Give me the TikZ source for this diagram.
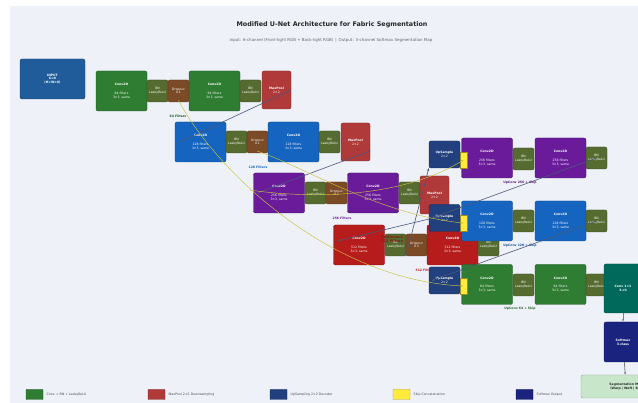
\documentclass[tikz,border=0pt]{standalone}
\usepackage{fontspec}
\setmainfont{DejaVu Sans}
\usepackage{tikz}
\usetikzlibrary{calc}
\usetikzlibrary{arrows.meta}

\definecolor{bgc}{HTML}{EEF1F8}
\definecolor{inc}{HTML}{1F5C99}
\definecolor{grc}{HTML}{2E7D32}
\definecolor{blc}{HTML}{1565C0}
\definecolor{puc}{HTML}{6A1B9A}
\definecolor{rdc}{HTML}{B71C1C}
\definecolor{bnc}{HTML}{556B2F}
\definecolor{drc}{HTML}{7B4A26}
\definecolor{poc}{HTML}{B03A3A}
\definecolor{upc}{HTML}{22407E}
\definecolor{cac}{HTML}{FFEB3B}
\definecolor{tec}{HTML}{00695C}
\definecolor{smc}{HTML}{1A237E}
\definecolor{sgc}{HTML}{C8E6C9}
\definecolor{skc}{HTML}{C9C23A}
\definecolor{dnc}{HTML}{4A5878}

\newcommand{\tinyf}{\fontsize{3.1}{3.7}\selectfont}
\newcommand{\convtxt}[1]{\textbf{Conv2D}\\[5pt]#1 filters\\3×3, same}

\begin{document}
\begin{tikzpicture}[x=1pt, y=-1pt,
	box/.style={rounded corners=2pt, draw=#1!70!black, fill=#1, text=white, align=center, inner sep=0pt, line width=0.4pt, font=\tinyf},
	conv/.style={box=#1, minimum width=51pt, minimum height=40pt},
	bn/.style={box=bnc, minimum width=21pt, minimum height=22pt},
	drop/.style={box=drc, minimum width=21pt, minimum height=22pt},
	pool/.style={box=poc, minimum width=29pt, minimum height=38pt},
	up/.style={box=upc, minimum width=31pt, minimum height=27pt},
	cat/.style={draw=cac!60!black, fill=cac, minimum width=7pt, minimum height=16pt, inner sep=0pt, line width=0.3pt},
	lab/.style={font=\tinyf\bfseries, text=#1},
	down/.style={draw=dnc, line width=0.6pt, -{Stealth[length=3pt, width=2.4pt]}},
	skip/.style={draw=skc, line width=0.45pt, -{Stealth[length=2.5pt, width=2pt]}},
	leg/.style={rounded corners=0.5pt, draw=#1!70!black, fill=#1, minimum width=17pt, minimum height=10pt, inner sep=0pt}]
	\path[use as bounding box] (0,0) rectangle (638,403);
	\clip (0,0) rectangle (638,403);
	\fill[white] (0,0) rectangle (638,403);
	\fill[bgc] (10,6) rectangle (638,403);
	
	\node[font={\fontsize{6.4}{8}\selectfont\bfseries}, text=black!85] (title) at (332,25) {Modified U-Net Architecture for Fabric Segmentation};
	\node[font={\fontsize{4}{5}\selectfont}, text=black!60] (sub) at (331,40) {Input: 6-channel (Front-light RGB + Back-light RGB) \,|\, Output: 3-channel Softmax Segmentation Map};
	
	\node[box=inc, minimum width=65pt, minimum height=40pt, font=\tinyf\bfseries] (inp) at (52.5,79) {INPUT\\6-ch\\(H×W×6)};
	
	% encoder
	\node[conv=grc] (c1a) at (121.5,91) {\convtxt{64}};
	\node[bn] (b1a) at (157.5,91) {BN\\LeakyReLU};
	\node[drop] (d1) at (178.5,91) {Dropout\\0.1};
	\node[conv=grc] (c1b) at (214.5,91) {\convtxt{64}};
	\node[bn] (b1b) at (250.5,91) {BN\\LeakyReLU};
	\node[pool] (mp1) at (276.5,90) {\textbf{MaxPool}\\2×2};
	\node[lab=grc!70!black] (l1) at (178,116) {64 Filters};
	
	\node[conv=blc] (c2a) at (200.5,142) {\convtxt{128}};
	\node[bn] (b2a) at (236.5,142) {BN\\LeakyReLU};
	\node[drop] (d2) at (257.5,142) {Dropout\\0.1};
	\node[conv=blc] (c2b) at (293.5,142) {\convtxt{128}};
	\node[bn] (b2b) at (329.5,142) {BN\\LeakyReLU};
	\node[pool] (mp2) at (355.5,142) {\textbf{MaxPool}\\2×2};
	\node[lab=blc] (l2) at (258,167) {128 Filters};
	
	\node[conv=puc] (c3a) at (279,193) {\convtxt{256}};
	\node[bn] (b3a) at (315.5,193) {BN\\LeakyReLU};
	\node[drop] (d3) at (336.5,193) {Dropout\\0.2};
	\node[conv=puc] (c3b) at (373,193) {\convtxt{256}};
	\node[bn] (b3b) at (409.5,193) {BN\\LeakyReLU};
	\node[pool] (mp3) at (434.5,195) {\textbf{MaxPool}\\2×2};
	\node[lab=puc] (l3) at (342,218) {256 Filters};
	
	% bottleneck
	\node[conv=rdc] (c4a) at (359,245) {\convtxt{512}};
	\node[bn] (b4a) at (395.5,245) {BN\\LeakyReLU};
	\node[drop] (d4) at (416.5,245) {Dropout\\0.3};
	\node[conv=rdc] (c4b) at (452.5,245) {\convtxt{512}};
	\node[bn] (b4b) at (488.5,245) {BN\\LeakyReLU};
	\node[lab=rdc] (l4) at (425,270) {512 Filters};
	\node[lab=rdc!80!black, align=center, font={\fontsize{3.6}{4.2}\selectfont\bfseries}] (bot) at (392,239) {Bottleneck\\512 Filters};
	
	% decoder
	\node[up] (u3) at (444.5,154.5) {\textbf{UpSample}\\2×2};
	\node[conv=puc] (e3a) at (487,158) {\convtxt{256}};
	\node[cat] (k3) at (463.5,160) {};
	\node[bn] (f3a) at (523.5,159) {BN\\LeakyReLU};
	\node[conv=puc] (e3b) at (560.5,158) {\convtxt{256}};
	\node[bn] (f3b) at (596.5,158) {BN\\LeakyReLU};
	\node[lab=puc!80!black] (m3) at (520,183) {UpConv 256 + Skip};
	
	\node[up] (u2) at (444.5,218) {\textbf{UpSample}\\2×2};
	\node[conv=blc] (e2a) at (487,221) {\convtxt{128}};
	\node[cat] (k2) at (463.5,223) {};
	\node[bn] (f2a) at (523.5,221) {BN\\LeakyReLU};
	\node[conv=blc] (e2b) at (560.5,221) {\convtxt{128}};
	\node[bn] (f2b) at (596.5,221) {BN\\LeakyReLU};
	\node[lab=blc!80!black] (m2) at (520,246) {UpConv 128 + Skip};
	
	\node[up] (u1) at (444.5,280.5) {\textbf{UpSample}\\2×2};
	\node[conv=grc] (e1a) at (487,284.5) {\convtxt{64}};
	\node[cat] (k1) at (463.5,286) {};
	\node[bn] (f1a) at (523.5,285) {BN\\LeakyReLU};
	\node[conv=grc] (e1b) at (560.5,284.5) {\convtxt{64}};
	\node[bn] (f1b) at (596.5,285) {BN\\LeakyReLU};
	\node[lab=grc!80!black] (m1) at (520,309) {UpConv 64 + Skip};
	
	% output head
	\node[box=tec, minimum width=38pt, minimum height=49pt, font=\tinyf\bfseries] (o1) at (623,288.5) {Conv 1×1\\3-ch};
	\node[box=smc, minimum width=38pt, minimum height=40pt, font=\tinyf\bfseries] (o2) at (623,342) {Softmax\\3-class};
	\node[box=sgc, draw=grc!60, text=black!85, minimum width=90pt, minimum height=23pt, font=\tinyf\bfseries] (o3) at (626,386.5) {Segmentation Map\\(Warp | Weft | Bg)};
	\draw[draw=black!50, line width=0.8pt, -{Stealth[length=3pt]}] (o1) -- (o2);
	\draw[draw=black!50, line width=0.8pt, -{Stealth[length=3pt]}] (o2) -- (o3);
	
	% down / up paths
	\draw[down] (mp1.east) -- ($(c2a.west)+(5,0)$);
	\draw[down] ($(mp2.east)+(0,9)$) -- ($(c3a.west)+(4,0)$);
	\draw[down] (mp3.south east) -- ($(c4a.west)+(4,-4)$);
	\draw[down] (d4.south west) -- (u3.south west);
	\draw[down] (f3b.center) -- ($(u2.west)+(3,0)$);
	\draw[down] (f2b.center) -- ($(u1.west)+(3,0)$);
	
	% skip connections
	\draw[skip] ($(d1.south)+(0,-2)$) .. controls (215,170) and (330,280) .. (k1.center);
	\draw[skip] ($(d2.south)+(0,-2)$) .. controls (300,165) and (380,215) .. (k2.center);
	\draw[skip] ($(c3a.west)+(-4,-3)$) .. controls (320,200) and (405,196) .. (k3.center);
	
	% legend
	\node[leg=grc] (g1) at (34.5,394.5) {};
	\node[leg=poc] (g2) at (156.5,394.5) {};
	\node[leg=upc] (g3) at (278.5,394.5) {};
	\node[leg=cac] (g4) at (401.5,394.5) {};
	\node[leg=smc] (g5) at (524.5,394.5) {};
	\node[anchor=west, font={\fontsize{3.2}{4}\selectfont}, text=black!70] at (g1.east) {Conv + BN + LeakyReLU};
	\node[anchor=west, font={\fontsize{3.2}{4}\selectfont}, text=black!70] at (g2.east) {MaxPool 2×2 Downsampling};
	\node[anchor=west, font={\fontsize{3.2}{4}\selectfont}, text=black!70] at (g3.east) {UpSampling 2×2 Decoder};
	\node[anchor=west, font={\fontsize{3.2}{4}\selectfont}, text=black!70] at (g4.east) {Skip Concatenation};
	\node[anchor=west, font={\fontsize{3.2}{4}\selectfont}, text=black!70] at (g5.east) {Softmax Output};
\end{tikzpicture}
\end{document}
